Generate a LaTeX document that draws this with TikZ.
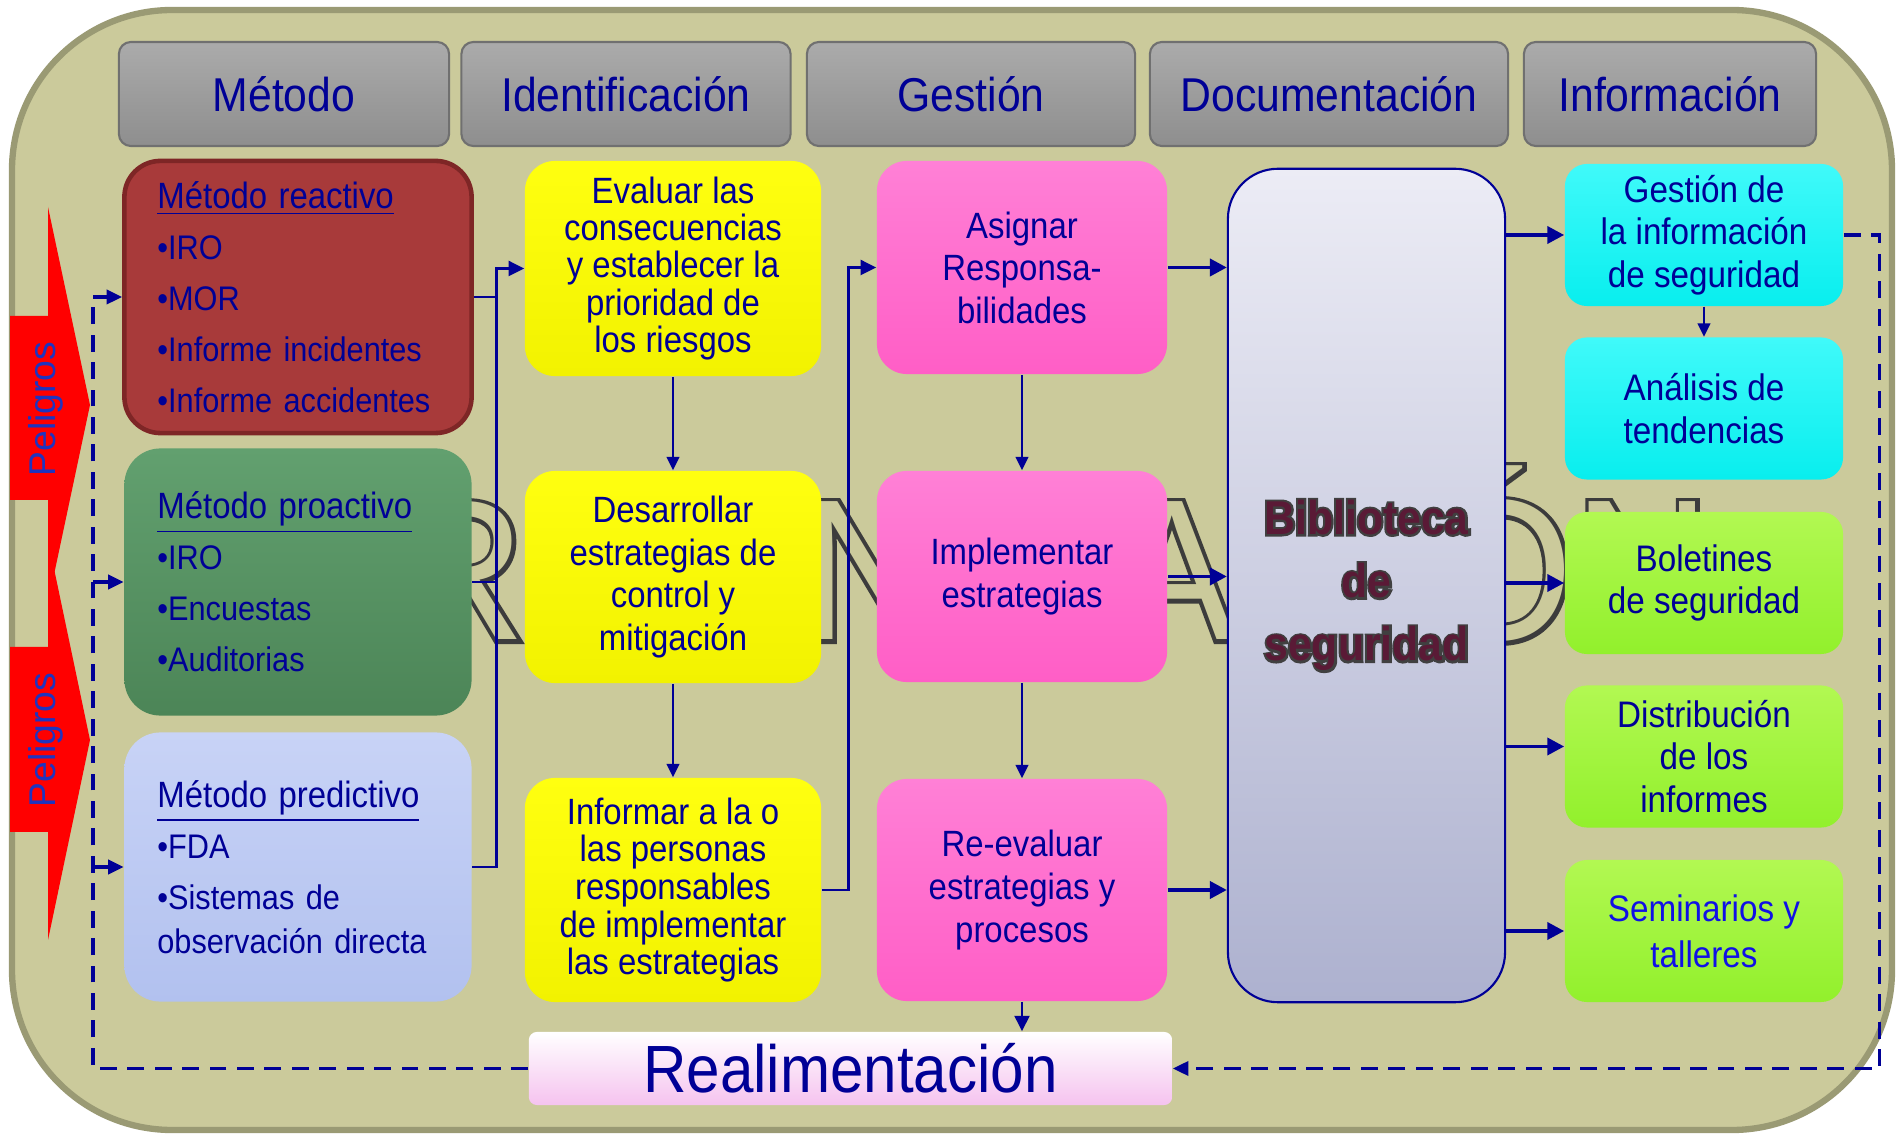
\documentclass[tikz,border=0pt]{standalone}
\usepackage{fontspec}
\setmainfont{Liberation Sans}[FakeStretch=0.9]
\newfontfamily\peligrosfont{Liberation Sans}
\newfontfamily\marcafont{Liberation Sans}[FakeStretch=0.95]
\newfontfamily\marcabordefont{Liberation Sans}[FakeStretch=0.95, FakeBold=4]
\newfontfamily\bibbordefont{Liberation Sans}[FakeStretch=0.9, FakeBold=9]
\usetikzlibrary{arrows.meta}
\definecolor{fondo}{HTML}{CBCA9B}
\definecolor{marco}{HTML}{9A9A74}
\definecolor{azul}{HTML}{000096}
\definecolor{azulvivo}{HTML}{1010E6}
\definecolor{azulpeligro}{HTML}{1E34C0}
\definecolor{gris}{HTML}{8E8E8E}
\definecolor{grisclaro}{HTML}{ABABAB}
\definecolor{grisborde}{HTML}{707070}
\definecolor{rojo}{HTML}{A83A3A}
\definecolor{rojoborde}{HTML}{7E2626}
\definecolor{verde}{HTML}{4C8557}
\definecolor{verdeclaro}{HTML}{62A06F}
\definecolor{celeste}{HTML}{B2C1EF}
\definecolor{celesteclaro}{HTML}{C8D3F6}
\definecolor{amarillo}{HTML}{FFFF10}
\definecolor{amarilloosc}{HTML}{F2F200}
\definecolor{rosa}{HTML}{FF5EC6}
\definecolor{rosaclaro}{HTML}{FF80D6}
\definecolor{bibarriba}{HTML}{ECECF5}
\definecolor{bibabajo}{HTML}{ADB1CF}
\definecolor{bibtexto}{HTML}{5A1A36}
\definecolor{bibborde}{HTML}{404040}
\definecolor{cian}{HTML}{08EEEE}
\definecolor{cianclaro}{HTML}{40FAFA}
\definecolor{lima}{HTML}{92F02C}
\definecolor{limaclaro}{HTML}{B2F852}
\definecolor{realimrosa}{HTML}{F5C3EF}
\definecolor{trazo}{HTML}{3C3C3C}
\begin{document}
\begin{tikzpicture}[x=0.01cm, y=-0.01cm, every node/.append style={inner sep=0pt},
	cabecera/.style={rounded corners=0.12cm, draw=grisborde, line width=0.6pt, top color=grisclaro, bottom color=gris, minimum width=#1, minimum height=1.04cm, text=azul, font=\fontsize{13.5}{16}\selectfont},
	metodo/.style={rounded corners=0.36cm, minimum height=#1, text width=2.81cm, inner xsep=0.33cm, align=left, text=azul, font=\fontsize{9.7}{14.5}\selectfont},
	amarilla/.style={rounded corners=0.3cm, top color=amarillo, bottom color=amarilloosc, minimum width=2.96cm, minimum height=#1, align=center, text=azul, font=\fontsize{10.4}{12.1}\selectfont},
	rosada/.style={rounded corners=0.3cm, top color=rosaclaro, bottom color=rosa, minimum width=2.90cm, minimum height=#1, align=center, text=azul, font=\fontsize{10.4}{12.1}\selectfont},
	cajacian/.style={rounded corners=0.22cm, top color=cianclaro, bottom color=cian, minimum width=2.78cm, minimum height=1.42cm, align=center, text=azul, font=\fontsize{10.5}{12.1}\selectfont},
	cajalima/.style={cajacian, top color=limaclaro, bottom color=lima},
	biblio/.style={rounded corners=0.5cm, draw=azul, line width=0.6pt, top color=bibarriba, bottom color=bibabajo, minimum width=2.77cm, minimum height=8.33cm, align=center, text=bibborde, font=\bibbordefont\bfseries\fontsize{13.5}{18}\selectfont},
	bibletra/.style={align=center, text=bibtexto, font=\bfseries\fontsize{13.5}{18}\selectfont},
	realim/.style={rounded corners=0.08cm, top color=white, bottom color=realimrosa, minimum width=6.43cm, minimum height=0.73cm, text=azul, font=\fontsize{19}{22}\selectfont},
	linea/.style={draw=azul, line width=0.75pt},
	flecha/.style={linea, -{Triangle[length=4.4pt, width=4.2pt]}},
	fina/.style={draw=azul, line width=0.6pt, -{Triangle[length=3.8pt, width=3.6pt]}},
	gruesa/.style={draw=azul, line width=1.1pt, -{Triangle[length=4.8pt, width=4.8pt]}},
	retro/.style={draw=azul, line width=0.95pt, dash pattern=on 4.8pt off 3pt},
	punta/.style={-{Triangle[length=4.4pt, width=4pt]}}]
	\useasboundingbox (0,0) rectangle (1902,1134);
	\draw[line width=1.8pt, draw=marco, fill=fondo, rounded corners=1.6cm] (12,10) rectangle (1892,1130);
	\node[anchor=base west, text=trazo, font=\marcabordefont\fontsize{57}{60}\selectfont] (marcaborde) at (240,640) {ORGANIZACIÓN};
	\node[anchor=base west, text=fondo, font=\marcafont\fontsize{57}{60}\selectfont] (marca) at (240,640) {ORGANIZACIÓN};

	\fill[red] (10,316) -- (48,316) -- (48,207) -- (90,405) -- (48,603) -- (48,500) -- (10,500) -- cycle;
	\fill[red] (10,647) -- (48,647) -- (48,540) -- (90,740) -- (48,940) -- (48,832) -- (10,832) -- cycle;
	\node[rotate=90, text=azulpeligro, font=\peligrosfont\fontsize{10.6}{12}\selectfont] (peligros1) at (46,409) {Peligros};
	\node[rotate=90, text=azulpeligro, font=\peligrosfont\fontsize{10.6}{12}\selectfont] (peligros2) at (46,740) {Peligros};

	\node[cabecera=3.30cm] (metodo) at (284,94) {Método};
	\node[cabecera=3.29cm] (identificacion) at (626,94) {Identificación};
	\node[cabecera=3.28cm] (gestionh) at (971,94) {Gestión};
	\node[cabecera=3.58cm] (documentacion) at (1329,94) {Documentación};
	\node[cabecera=2.92cm] (informacion) at (1670,94) {Información};

	\node[metodo=2.72cm, fill=rojo, draw=rojoborde, line width=1.3pt] (reactivo) at (298,297) {{\fontsize{10.4}{14.5}\selectfont\underline{Método reactivo}}\\•IRO\\•MOR\\\mbox{•Informe incidentes}\\\mbox{•Informe accidentes}};
	\node[metodo=2.67cm, top color=verdeclaro, bottom color=verde] (proactivo) at (298,582) {{\fontsize{10.4}{14.5}\selectfont\underline{Método proactivo}}\\•IRO\\•Encuestas\\•Auditorias};
	\node[metodo=2.69cm, top color=celesteclaro, bottom color=celeste] (predictivo) at (298,867) {{\fontsize{10.4}{14.5}\selectfont\underline{Método predictivo}}\\•FDA\\•Sistemas de\\[-2pt]\mbox{observación directa}};

	\node[amarilla=2.15cm, font=\fontsize{10.4}{10.6}\selectfont] (evaluar) at (673,268.5) {Evaluar las\\consecuencias\\y establecer la\\prioridad de\\los riesgos};
	\node[amarilla=2.12cm] (desarrollar) at (673,577) {Desarrollar\\estrategias de\\control y\\mitigación};
	\node[amarilla=2.24cm, font=\fontsize{10.4}{10.7}\selectfont] (informar) at (673,890) {Informar a la o\\las personas\\responsables\\de implementar\\las estrategias};

	\node[rosada=2.13cm] (asignar) at (1022,267.5) {Asignar\\Responsa-\\bilidades};
	\node[rosada=2.11cm] (implementar) at (1022,576.5) {Implementar\\estrategias};
	\node[rosada=2.22cm] (reevaluar) at (1022,890) {Re-evaluar\\estrategias y\\procesos};

	\node[biblio] (biblioteca) at (1366.5,585.5) {Biblioteca\\de\\seguridad};
	\node[bibletra] (bibrelleno) at (biblioteca.center) {Biblioteca\\de\\seguridad};

	\node[cajacian] (gestion) at (1704,235) {Gestión de\\la información\\de seguridad};
	\node[cajacian] (analisis) at (1704,408.5) {Análisis de\\tendencias};
	\node[cajalima] (boletines) at (1704,583) {Boletines\\de seguridad};
	\node[cajalima] (distribucion) at (1704,756.5) {Distribución\\de los\\informes};
	\node[cajalima, text=azulvivo, font=\fontsize{10.5}{13}\selectfont] (seminarios) at (1704,931) {Seminarios y\\talleres};

	\node[realim] (realimentacion) at (850.5,1068.5) {Realimentación};

	\path (evaluar.west) ++(-28,0) coordinate (bus);
	\draw[linea] (reactivo.east) -| (bus);
	\draw[linea] (proactivo.east) -| (bus);
	\draw[flecha] (predictivo.east) -| (bus) -- (evaluar.west);
	\draw[fina] (evaluar.south) -- (desarrollar.north);
	\draw[fina] (desarrollar.south) -- (informar.north);
	\path (asignar.west) ++(-28,0) coordinate (sube);
	\draw[flecha] (informar.east) -| (sube) -- (asignar.west);
	\draw[fina] (asignar.south) -- (implementar.north);
	\draw[fina] (implementar.south) -- (reevaluar.north);
	\draw[flecha] (reevaluar.south) -- (realimentacion.north -| reevaluar.south);

	\draw[gruesa] (asignar.east) -- (asignar.east -| biblioteca.west);
	\draw[gruesa] (implementar.east) -- (implementar.east -| biblioteca.west);
	\draw[gruesa] (reevaluar.east) -- (reevaluar.east -| biblioteca.west);
	\path ([yshift=0.1cm]distribucion.west) coordinate (distrib);
	\draw[gruesa] (gestion.west -| biblioteca.east) -- (gestion.west);
	\draw[gruesa] (boletines.west -| biblioteca.east) -- (boletines.west);
	\draw[gruesa] (distrib -| biblioteca.east) -- (distrib);
	\draw[gruesa] (seminarios.west -| biblioteca.east) -- (seminarios.west);
	\draw[fina] (gestion.south) -- (analisis.north);

	\path (gestion.east) ++(36,0) coordinate (esquina);
	\coordinate (izquierda) at (93,297);
	\draw[retro, punta] (gestion.east) -- (esquina) |- (realimentacion.east);
	\draw[retro, punta] (realimentacion.west) -| (izquierda) -- (reactivo.west);
	\draw[retro, punta] (proactivo.west -| izquierda) -- (proactivo.west);
	\draw[retro, punta] (predictivo.west -| izquierda) -- (predictivo.west);
\end{tikzpicture}
\end{document}
